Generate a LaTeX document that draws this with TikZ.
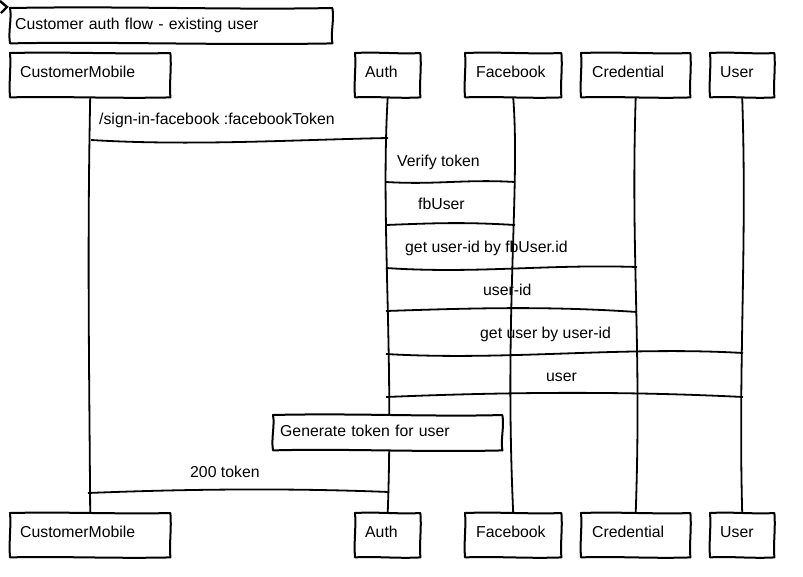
\documentclass[tikz,border=0pt]{standalone}
\usepackage{fontspec}
\setmainfont{Liberation Sans}
\usetikzlibrary{calc}
\pgfdeclarelayer{bg}
\pgfsetlayers{bg,main}
\newcommand\diafont{\fontsize{15.8}{18}\selectfont}
\tikzset{
  x=1pt, y=-1pt,
  boxline/.style={line width=2pt, line join=round},
  life/.style={line width=1.8pt},
  msg/.style={line width=1.8pt},
  actor/.style={anchor=north west, fill=white, inner xsep=10pt, inner ysep=12pt,
    text height=12pt, text depth=8pt, align=left, font=\diafont},
  notebox/.style={anchor=north west, fill=white, inner ysep=9pt,
    text height=12pt, text depth=5pt, align=left, font=\diafont},
  lbl/.style={anchor=base west, inner sep=0pt, font=\diafont},
}
\newcommand\sketchout[2][1.3]{%
  \draw[boxline] (#2.north west)
    .. controls ($(#2.north west)!0.35!(#2.north east)+(0,-#1)$) and ($(#2.north west)!0.7!(#2.north east)+(0,#1)$) .. (#2.north east)
    .. controls ($(#2.north east)!0.35!(#2.south east)+(#1,0)$) and ($(#2.north east)!0.7!(#2.south east)+(-#1,0)$) .. (#2.south east)
    .. controls ($(#2.south east)!0.35!(#2.south west)+(0,#1)$) and ($(#2.south east)!0.7!(#2.south west)+(0,-#1)$) .. (#2.south west)
    .. controls ($(#2.south west)!0.35!(#2.north west)+(-#1,0)$) and ($(#2.south west)!0.7!(#2.north west)+(#1,0)$) .. cycle;}
\begin{document}
\begin{tikzpicture}
\useasboundingbox (0,0) rectangle (803,576);
% corner mark
\draw[line width=2.4pt, line join=miter] (0,1) -- (7,7) -- (1,13);
% title
\node[notebox, inner xsep=5pt, text width=312pt] (title) at (10,8) {Customer auth flow - existing user};
\sketchout[2]{title}
% top actors
\node[actor, text width=140pt] (cmT) at (10,53) {CustomerMobile};
\node[actor, text width=45pt] (auT) at (355,53) {Auth};
\node[actor, inner xsep=11pt, text width=74pt] (fbT) at (465,53) {Facebook};
\node[actor, inner xsep=11pt, text width=87pt] (crT) at (581,53) {Credential};
\node[actor, text width=44pt] (usT) at (710,53) {User};
% bottom actors
\node[actor, text width=140pt] (cmB) at (10,513) {CustomerMobile};
\node[actor, text width=45pt] (auB) at (355,513) {Auth};
\node[actor, inner xsep=11pt, text width=74pt] (fbB) at (465,513) {Facebook};
\node[actor, inner xsep=11pt, text width=87pt] (crB) at (581,513) {Credential};
\node[actor, text width=44pt] (usB) at (710,513) {User};
\foreach \n in {cmT,auT,fbT,crT,usT,cmB,auB,fbB,crB,usB}{\sketchout{\n}}
% note
\node[notebox, inner xsep=7pt, text width=215pt] (note) at (273,415) {Generate token for user};
\sketchout[2]{note}
% lifelines
\begin{pgfonlayer}{bg}
\draw[life] (cmT.south) .. controls +(-3,150) and +(-1,-150) .. (cmB.north);
\draw[life] (auT.south) .. controls +(-7,120) and +(6,-160) .. (auB.north);
\draw[life] (fbT.south) .. controls +(7,90) and +(-9,-200) .. (fbB.north);
\draw[life] (crT.south) .. controls +(-5,160) and +(6,-170) .. (crB.north);
\draw[life] (usT.south) .. controls +(5,150) and +(-4,-150) .. (usB.north);
\end{pgfonlayer}
% message end points
\coordinate (m1a) at (91,140);  \coordinate (m1b) at (388,138);
\coordinate (m2a) at (386,182); \coordinate (m2b) at (515,182);
\coordinate (m3a) at (515,225); \coordinate (m3b) at (386,225);
\coordinate (m4a) at (386,268); \coordinate (m4b) at (637,267);
\coordinate (m5a) at (637,312); \coordinate (m5b) at (386,311);
\coordinate (m6a) at (386,354); \coordinate (m6b) at (743,353);
\coordinate (m7a) at (743,397); \coordinate (m7b) at (386,397);
\coordinate (m9a) at (389,492); \coordinate (m9b) at (88,493);
% messages
\draw[msg] (m1a) .. controls +(100,6) and +(-100,2) .. (m1b);
\draw[msg] (m2a) .. controls +(50,3) and +(-50,-3) .. (m2b);
\draw[msg] (m3a) .. controls +(-50,-3) and +(50,-2) .. (m3b);
\draw[msg] (m4a) .. controls +(90,6) and +(-90,-3) .. (m4b);
\draw[msg] (m5a) .. controls +(-90,-6) and +(90,-3) .. (m5b);
\draw[msg] (m6a) .. controls +(120,7) and +(-120,-7) .. (m6b);
\draw[msg] (m7a) .. controls +(-120,-6) and +(120,-5) .. (m7b);
\draw[msg] (m9a) .. controls +(-100,-4) and +(100,-4) .. (m9b);
% labels
\node[lbl] (l1) at (99,124) {/sign-in-facebook :facebookToken};
\node[lbl] (l2) at (397,166) {Verify token};
\node[lbl] (l3) at (418,209) {fbUser};
\node[lbl] (l4) at (405,252) {get user-id by fbUser.id};
\node[lbl] (l5) at (483,295) {user-id};
\node[lbl] (l6) at (480,338) {get user by user-id};
\node[lbl] (l7) at (546,381) {user};
\node[lbl] (l9) at (190,477) {200 token};
\end{tikzpicture}
\end{document}
